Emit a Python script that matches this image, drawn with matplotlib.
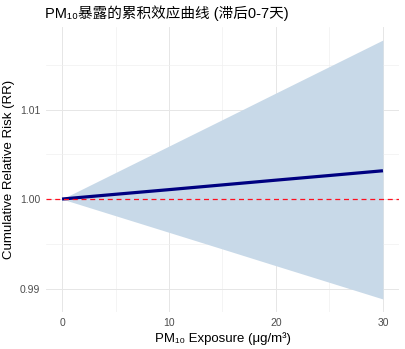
import numpy as np
import matplotlib
matplotlib.use("Agg")
import matplotlib.pyplot as plt
from matplotlib.ticker import MultipleLocator

# values
exposure = [0, 5, 10, 15, 20, 25, 30]
rr_fit = [1.0, 1.00053, 1.00105, 1.00158, 1.00211, 1.00263, 1.00316]
rr_low = [1.0, 0.99814, 0.99628, 0.99442, 0.99255, 0.99069, 0.98883]
rr_high = [1.0, 1.00296, 1.00592, 1.00888, 1.01185, 1.01481, 1.01777]

plt.rcParams['font.family'] = ['Liberation Sans', 'Noto Sans CJK SC', 'DejaVu Sans']

fig = plt.figure(figsize=(4.06, 3.49), dpi=100)
ax = fig.add_axes([46 / 406, 37 / 349, 353 / 406, 285 / 349])

ax.fill_between(exposure, rr_low, rr_high, color='#c8d9e8', linewidth=0, zorder=2)
ax.plot(exposure, rr_fit, color='#000080', linewidth=2.3, zorder=3, solid_capstyle='butt')
ax.axhline(1.0, color='#ff1020', linestyle=(0, (4, 3)), linewidth=0.9, zorder=4)

ax.set_xlim(-1.5, 31.5)
ax.set_ylim(0.98738, 1.01922)
ax.xaxis.set_major_locator(MultipleLocator(10))
ax.xaxis.set_minor_locator(MultipleLocator(5))
ax.set_yticks([0.99, 1.00, 1.01])
ax.set_yticklabels(['0.99', '1.00', '1.01'])
ax.yaxis.set_minor_locator(MultipleLocator(0.005))

ax.grid(which='major', color='#e6e6e6', linewidth=0.7, zorder=0)
ax.grid(which='minor', color='#f0f0f0', linewidth=0.5, zorder=0)
ax.set_axisbelow(True)
for s in ax.spines.values():
    s.set_visible(False)
ax.tick_params(which='both', length=0, colors='#4d4d4d', labelsize=7.5, pad=4)

ax.set_xlabel('PM₁₀ Exposure (μg/m³)', fontsize=9.5, color='black', labelpad=3)
ax.set_ylabel('Cumulative Relative Risk (RR)', fontsize=9.5, color='black', labelpad=4)
fig.text(45 / 406, 1 - 13 / 349, 'PM₁₀暴露的累积效应曲线 (滞后0-7天)', fontsize=10.5,
         ha='left', va='center')

fig.savefig('out.png', dpi=100)
